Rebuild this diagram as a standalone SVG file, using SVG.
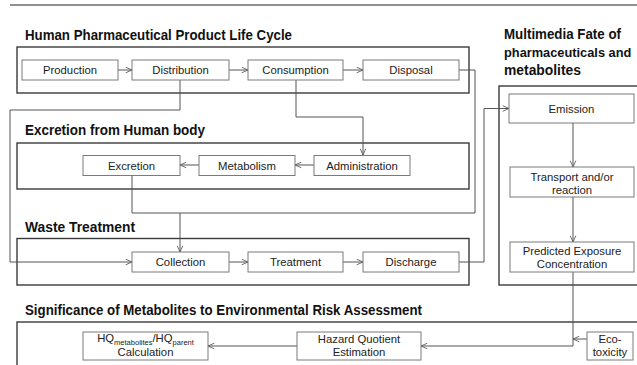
<svg xmlns="http://www.w3.org/2000/svg" width="637" height="365" viewBox="0 0 637 365">
<style>
.bg{fill:#ffffff}
.outer{fill:none;stroke:#3a3a3a;stroke-width:1.4}
.box{fill:#ffffff;stroke:#7a7a7a;stroke-width:1}
.title{font-family:"Liberation Sans",Arial,sans-serif;font-weight:bold;font-size:14px;fill:#111}
.lbl{font-family:"Liberation Sans",Arial,sans-serif;font-size:11.3px;fill:#222;text-anchor:middle}
.sub{font-size:7.5px}
.conn{fill:none;stroke:#555;stroke-width:1}
</style>
<defs>
<marker id="arr" viewBox="0 0 10 10" refX="10" refY="5" markerWidth="7" markerHeight="7" orient="auto" markerUnits="userSpaceOnUse">
<path d="M1,1 L10,5 L1,9" fill="none" stroke="#555" stroke-width="1.2"/>
</marker>
</defs>
<rect class="bg" x="0" y="0" width="637" height="365"/>
<line x1="10" y1="5" x2="637" y2="5" stroke="#222" stroke-width="1.2"/>

<g id="titles">
<text class="title" x="25" y="39.5" textLength="267" lengthAdjust="spacingAndGlyphs">Human Pharmaceutical Product Life Cycle</text>
<text class="title" x="25" y="135" textLength="180" lengthAdjust="spacingAndGlyphs">Excretion from Human body</text>
<text class="title" x="25" y="232" textLength="110" lengthAdjust="spacingAndGlyphs">Waste Treatment</text>
<text class="title" x="25" y="315" textLength="397" lengthAdjust="spacingAndGlyphs">Significance of Metabolites to Environmental Risk Assessment</text>
<text class="title" x="504" y="39" textLength="117" lengthAdjust="spacingAndGlyphs">Multimedia Fate of</text>
<text class="title" x="504" y="57" style="font-size:12.8px">pharmaceuticals and</text>
<text class="title" x="504" y="74.5" textLength="77" lengthAdjust="spacingAndGlyphs">metabolites</text>
</g>

<g id="groups">
<rect id="grp-lifecycle" class="outer" x="17" y="47" width="452" height="46"/>
<rect id="grp-excretion" class="outer" x="17" y="143" width="452" height="46"/>
<rect id="grp-waste" class="outer" x="17" y="238.5" width="452" height="46.5"/>
<rect id="grp-fate" class="outer" x="499" y="86" width="160" height="199"/>
<rect id="grp-significance" class="outer" x="17" y="322" width="650" height="60"/>
</g>

<g id="connectors">
<path class="conn" d="M118,70 H132" marker-end="url(#arr)"/>
<path class="conn" d="M229,70 H248" marker-end="url(#arr)"/>
<path class="conn" d="M343,70 H363" marker-end="url(#arr)"/>
<path class="conn" d="M296,80 V117 H363 V155" marker-end="url(#arr)"/>
<path class="conn" d="M314,165 H295" marker-end="url(#arr)"/>
<path class="conn" d="M199,165 H180" marker-end="url(#arr)"/>
<path class="conn" d="M132,175 V213 H180 V252" marker-end="url(#arr)"/>
<path class="conn" d="M459,70 H475 V213 H180"/>
<path class="conn" d="M180,80 V110 H10 V262 H132" marker-end="url(#arr)"/>
<path class="conn" d="M229,262 H248" marker-end="url(#arr)"/>
<path class="conn" d="M343,262 H363" marker-end="url(#arr)"/>
<path class="conn" d="M459,262 H484 V108.5 H509" marker-end="url(#arr)"/>
<path class="conn" d="M573,123 V167" marker-end="url(#arr)"/>
<path class="conn" d="M573,197 V242" marker-end="url(#arr)"/>
<path class="conn" d="M573,272 V346 H421" marker-end="url(#arr)"/>
<path class="conn" d="M587,339 H573" marker-end="url(#arr)"/>
<path class="conn" d="M297,346 H208" marker-end="url(#arr)"/>
</g>

<g id="production"><rect class="box" x="22" y="60" width="96" height="20"/><text class="lbl" x="70" y="74">Production</text></g>
<g id="distribution"><rect class="box" x="132" y="60" width="97" height="20"/><text class="lbl" x="180.5" y="74">Distribution</text></g>
<g id="consumption"><rect class="box" x="248" y="60" width="95" height="20"/><text class="lbl" x="295.5" y="74">Consumption</text></g>
<g id="disposal"><rect class="box" x="363" y="60" width="96" height="20"/><text class="lbl" x="411" y="74">Disposal</text></g>

<g id="excretion"><rect class="box" x="83" y="155.5" width="97" height="20"/><text class="lbl" x="131.5" y="169.5">Excretion</text></g>
<g id="metabolism"><rect class="box" x="199" y="155.5" width="96" height="20"/><text class="lbl" x="247" y="169.5">Metabolism</text></g>
<g id="administration"><rect class="box" x="314" y="155.5" width="96" height="20"/><text class="lbl" x="362" y="169.5">Administration</text></g>

<g id="collection"><rect class="box" x="132" y="252" width="97" height="20"/><text class="lbl" x="180.5" y="266">Collection</text></g>
<g id="treatment"><rect class="box" x="248" y="252" width="95" height="20"/><text class="lbl" x="295.5" y="266">Treatment</text></g>
<g id="discharge"><rect class="box" x="363" y="252" width="96" height="20"/><text class="lbl" x="411" y="266">Discharge</text></g>

<g id="emission"><rect class="box" x="509" y="94" width="125" height="29"/><text class="lbl" x="571.5" y="112.5">Emission</text></g>
<g id="transport"><rect class="box" x="510" y="167" width="124" height="30"/><text class="lbl" x="572" y="180.5">Transport and/or</text><text class="lbl" x="572" y="194">reaction</text></g>
<g id="pec"><rect class="box" x="510" y="242" width="124" height="30"/><text class="lbl" x="572" y="254.5">Predicted Exposure</text><text class="lbl" x="572" y="268">Concentration</text></g>

<g id="ecotoxicity"><rect class="box" x="587" y="332" width="46" height="28"/><text class="lbl" x="610" y="342.5">Eco-</text><text class="lbl" x="610" y="356">toxicity</text></g>
<g id="hazard"><rect class="box" x="297" y="332" width="124" height="28"/><text class="lbl" x="359" y="342.5">Hazard Quotient</text><text class="lbl" x="359" y="356">Estimation</text></g>
<g id="hq"><rect class="box" x="83" y="332" width="125" height="28"/><text class="lbl" x="145.5" y="342">HQ<tspan class="sub" dy="2.5">metabolites</tspan><tspan dy="-2.5">/HQ</tspan><tspan class="sub" dy="2.5">parent</tspan></text><text class="lbl" x="145.5" y="356">Calculation</text></g>
</svg>
